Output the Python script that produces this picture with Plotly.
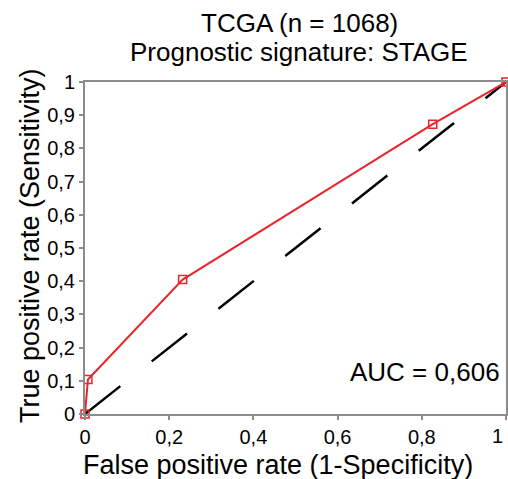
import plotly.graph_objects as go

fpr = [0.0, 0.007, 0.232, 0.826, 1.0]
tpr = [0.0, 0.104, 0.405, 0.873, 1.0]
ref_x = [0.0, 1.0]
ref_y = [0.0, 1.0]
tick_vals = [0, 0.1, 0.2, 0.3, 0.4, 0.5, 0.6, 0.7, 0.8, 0.9, 1.0]
y_tick_text = ["0", "0,1", "0,2", "0,3", "0,4", "0,5", "0,6", "0,7", "0,8", "0,9", "1"]
x_tick_vals = [0, 0.2, 0.4, 0.6, 0.8, 1.0]
x_tick_text = ["0", "0,2", "0,4", "0,6", "0,8", "1"]
title_lines = ["TCGA (n = 1068)", "Prognostic signature: STAGE"]
x_title = "False positive rate (1-Specificity)"
y_title = "True positive rate (Sensitivity)"
auc_text = "AUC = 0,606"

font = "Liberation Sans, Arial, sans-serif"
W, H = 508, 479
L, R, T, B = 85, 2, 82, 65
pw, ph = W - L - R, H - T - B


def px2paper(px, py):
    return (px - L) / pw, (H - B - py) / ph


fig = go.Figure()
fig.add_trace(go.Scatter(x=ref_x, y=ref_y, mode="lines",
                         line=dict(color="black", width=2.5, dash="45px,40px"),
                         showlegend=False, hoverinfo="skip"))
fig.add_trace(go.Scatter(x=fpr, y=tpr, mode="lines+markers",
                         line=dict(color="#e8252a", width=2),
                         marker=dict(symbol="square-open", size=8, color="#e8252a",
                                     line=dict(width=1.5, color="#e8252a")),
                         showlegend=False, cliponaxis=False))

axis_common = dict(showline=True, linecolor="#8c8c8c", linewidth=2, mirror=True,
                   ticks="outside", ticklen=4, tickcolor="#8c8c8c", tickwidth=2,
                   showgrid=False, zeroline=False, automargin=False,
                   tickfont=dict(family=font, size=20, color="black"))

# last x tick label is drawn as an annotation, right-aligned to stay inside the page
fig.update_xaxes(range=[0, 1], tickvals=x_tick_vals,
                 ticktext=x_tick_text[:-1] + [""], **axis_common)
fig.update_yaxes(range=[0, 1], tickvals=tick_vals, ticktext=y_tick_text, **axis_common)

_, ly = px2paper(0, 436)
fig.add_annotation(x=x_tick_vals[-1], y=ly, xref="x", yref="paper", text=x_tick_text[-1],
                   showarrow=False, xanchor="right", yanchor="middle", xshift=-1,
                   font=dict(family=font, size=20, color="black"))

fig.add_annotation(x=0.99, y=0.075, xref="x", yref="y", text=auc_text,
                   showarrow=False, xanchor="right", yanchor="bottom",
                   font=dict(family=font, size=26, color="black"))

for i, line in enumerate(title_lines):
    ax, ay = px2paper(299, 23 + 29 * i)
    fig.add_annotation(x=ax, y=ay, xref="paper", yref="paper",
                       text=line, showarrow=False, xanchor="center", yanchor="middle",
                       font=dict(family=font, size=26, color="black"))

ax, ay = px2paper(278, 465)
fig.add_annotation(x=ax, y=ay, xref="paper", yref="paper", text=x_title,
                   showarrow=False, xanchor="center", yanchor="middle",
                   font=dict(family=font, size=27, color="black"))
ax, ay = px2paper(30, 246)
fig.add_annotation(x=ax, y=ay, xref="paper", yref="paper", text=y_title,
                   showarrow=False, xanchor="center", yanchor="middle", textangle=-90,
                   font=dict(family=font, size=27, color="black"))

fig.update_layout(
    width=W, height=H,
    margin=dict(l=L, r=R, t=T, b=B),
    paper_bgcolor="white", plot_bgcolor="white",
)

fig.write_html("out.html")
